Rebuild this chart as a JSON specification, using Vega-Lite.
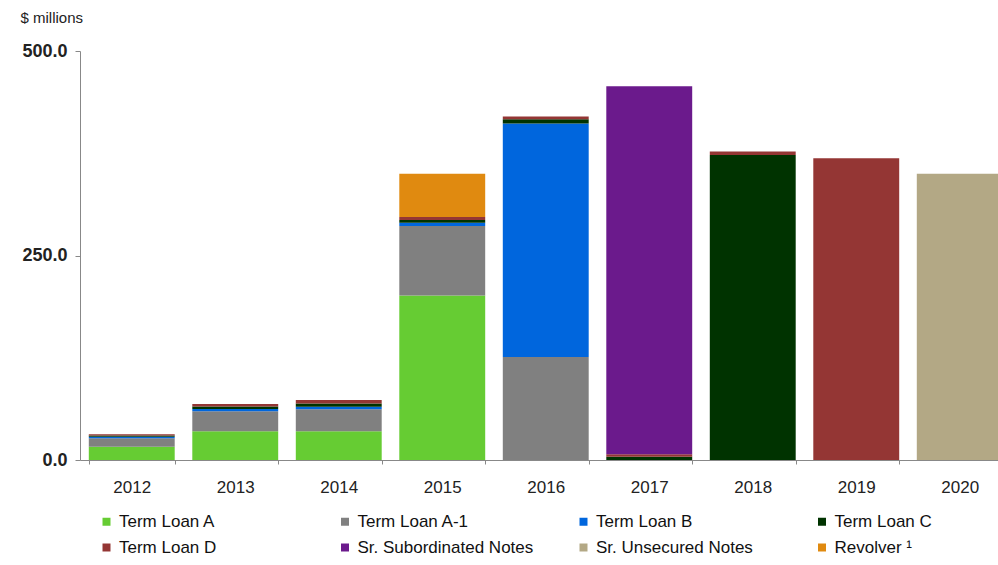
{
  "$schema": "https://vega.github.io/schema/vega-lite/v6.json",
  "width": 931.5,
  "height": 409,
  "autosize": "none",
  "padding": {"left": 80, "top": 51, "right": 0, "bottom": 105},
  "background": "white",
  "config": {"view": {"stroke": null}, "font": "Liberation Sans"},
  "data": {"values": [
    {"year": "2012", "type": "Term Loan A", "value": 16.3},
    {"year": "2012", "type": "Term Loan A-1", "value": 10.2},
    {"year": "2012", "type": "Term Loan B", "value": 2},
    {"year": "2012", "type": "Term Loan C", "value": 1.5},
    {"year": "2012", "type": "Term Loan D", "value": 1.5},
    {"year": "2013", "type": "Term Loan A", "value": 35},
    {"year": "2013", "type": "Term Loan A-1", "value": 24.5},
    {"year": "2013", "type": "Term Loan B", "value": 3},
    {"year": "2013", "type": "Term Loan C", "value": 3},
    {"year": "2013", "type": "Term Loan D", "value": 3},
    {"year": "2014", "type": "Term Loan A", "value": 35},
    {"year": "2014", "type": "Term Loan A-1", "value": 27},
    {"year": "2014", "type": "Term Loan B", "value": 3},
    {"year": "2014", "type": "Term Loan C", "value": 4},
    {"year": "2014", "type": "Term Loan D", "value": 4.5},
    {"year": "2015", "type": "Term Loan A", "value": 201},
    {"year": "2015", "type": "Term Loan A-1", "value": 85},
    {"year": "2015", "type": "Term Loan B", "value": 4},
    {"year": "2015", "type": "Term Loan C", "value": 3.5},
    {"year": "2015", "type": "Term Loan D", "value": 3.5},
    {"year": "2015", "type": "Revolver ¹", "value": 53},
    {"year": "2016", "type": "Term Loan A-1", "value": 126},
    {"year": "2016", "type": "Term Loan B", "value": 285.5},
    {"year": "2016", "type": "Term Loan C", "value": 5},
    {"year": "2016", "type": "Term Loan D", "value": 3.5},
    {"year": "2017", "type": "Term Loan C", "value": 4},
    {"year": "2017", "type": "Term Loan D", "value": 3},
    {"year": "2017", "type": "Sr. Subordinated Notes", "value": 450},
    {"year": "2018", "type": "Term Loan C", "value": 373},
    {"year": "2018", "type": "Term Loan D", "value": 4},
    {"year": "2019", "type": "Term Loan D", "value": 369},
    {"year": "2020", "type": "Sr. Unsecured Notes", "value": 350}
  ]},
  "mark": {"type": "bar"},
  "encoding": {
    "x": {
      "field": "year", "type": "ordinal",
      "scale": {"paddingInner": 0.17, "paddingOuter": 0.085},
      "axis": {
        "title": null, "labelAngle": 0, "labelFontSize": 17, "labelColor": "#222",
        "labelPadding": 15, "domainColor": "#888", "tickColor": "#888",
        "tickBand": "extent", "tickSize": 4, "grid": false
      }
    },
    "y": {
      "field": "value", "type": "quantitative", "stack": "zero",
      "scale": {"domain": [0, 500], "nice": false},
      "axis": {
        "values": [0, 250, 500], "format": ".1f", "grid": false,
        "labelFontSize": 18, "labelFontWeight": "bold", "labelColor": "#222",
        "labelPadding": 8, "tickSize": 5, "domainColor": "#888", "tickColor": "#888",
        "title": "$ millions", "titleAngle": 0, "titleX": -60, "titleY": -34,
        "titleAlign": "left", "titleBaseline": "middle", "titleFontSize": 15,
        "titleFontWeight": "normal", "titleColor": "#222"
      }
    },
    "color": {
      "field": "type", "type": "nominal",
      "sort": ["Term Loan A", "Term Loan A-1", "Term Loan B", "Term Loan C", "Term Loan D", "Sr. Subordinated Notes", "Sr. Unsecured Notes", "Revolver ¹"],
      "scale": {
        "domain": ["Term Loan A", "Term Loan A-1", "Term Loan B", "Term Loan C", "Term Loan D", "Sr. Subordinated Notes", "Sr. Unsecured Notes", "Revolver ¹"],
        "range": ["#66CC33", "#808080", "#0066DD", "#003300", "#943634", "#6B1A8C", "#B3A885", "#E08A10"]
      },
      "legend": {
        "title": null, "orient": "none", "legendX": 18, "legendY": 462,
        "direction": "horizontal", "columns": 4, "gridAlign": "all",
        "symbolType": "square", "symbolSize": 64, "symbolStrokeWidth": 0,
        "labelFontSize": 17, "labelColor": "#111", "labelOffset": 4, "labelLimit": 300,
        "columnPadding": 41.5, "rowPadding": 8
      }
    },
    "order": {"field": "ord", "type": "quantitative"}
  },
  "transform": [
    {"lookup": "type", "from": {"data": {"values": [
      {"type": "Term Loan A", "ord": 1}, {"type": "Term Loan A-1", "ord": 2}, {"type": "Term Loan B", "ord": 3},
      {"type": "Term Loan C", "ord": 4}, {"type": "Term Loan D", "ord": 5}, {"type": "Sr. Subordinated Notes", "ord": 6},
      {"type": "Sr. Unsecured Notes", "ord": 7}, {"type": "Revolver ¹", "ord": 8}
    ]}, "key": "type", "fields": ["ord"]}}
  ]
}
